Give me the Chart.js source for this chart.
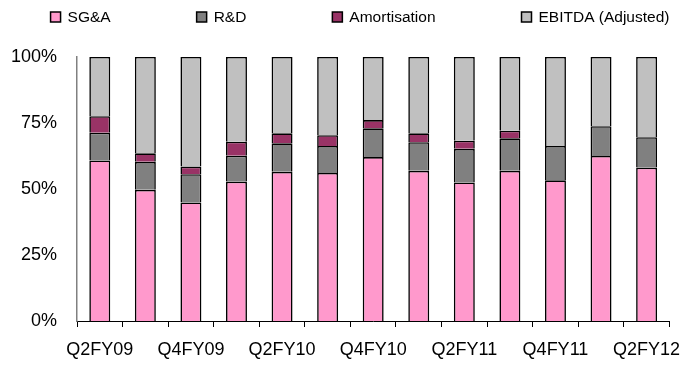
<!DOCTYPE html>
<html>
<head>
<meta charset="utf-8">
<script src="https://cdn.jsdelivr.net/npm/chart.js@4.4.1/dist/chart.umd.min.js"></script>
<style>
  html, body { margin: 0; padding: 0; background: #fff; }
  #caixa { width: 693px; height: 367px; }
</style>
</head>
<body>
<div id="caixa"><canvas id="grafico" width="693" height="367"></canvas></div>
<script>
// dados do gráfico (% da receita)
const trimestres = ["Q2FY09", "Q3FY09", "Q4FY09", "Q1FY10", "Q2FY10", "Q3FY10", "Q4FY10",
  "Q1FY11", "Q2FY11", "Q3FY11", "Q4FY11", "Q1FY12", "Q2FY12"];
const sga = [60.8, 49.7, 44.9, 52.8, 56.5, 56.1, 62.1, 56.9, 52.5, 56.9, 53.3, 62.5, 58.1];
const pd = [10.5, 10.6, 10.7, 9.8, 10.8, 10.2, 10.9, 10.8, 12.7, 12.3, 13.0, 11.3, 11.5];
const amortizacao = [6.3, 3.2, 2.9, 5.3, 3.8, 4.1, 3.1, 3.4, 3.1, 2.9, 0, 0, 0];
const ebitda = [22.4, 36.5, 41.5, 32.1, 28.9, 29.6, 23.9, 28.9, 31.7, 27.9, 33.7, 26.2, 30.4];
const ticksY = [0, 25, 50, 75, 100];

const fonte = "'Liberation Sans Narrow', 'Arial Narrow', 'Liberation Sans', Arial, sans-serif";

function serie(nome, valores, cor) {
  return {
    label: nome,
    data: valores,
    backgroundColor: cor,
    borderColor: "#000",
    borderWidth: 1.6,
    barPercentage: 0.46,
    categoryPercentage: 1,
  };
}

// legenda desenhada à mão no topo
const legendaTopo = {
  id: "legendaTopo",
  afterDraw(chart) {
    const ctx = chart.ctx;
    const itens = chart.data.datasets;
    const caixa = 10, espaco = 7, gap = 86, centro = 360, yMeio = 17;
    ctx.save();
    ctx.font = "15.5px " + fonte;
    const larguras = itens.map((d) => caixa + espaco + ctx.measureText(d.label).width);
    const total = larguras.reduce((a, b) => a + b, 0) + gap * (itens.length - 1);
    let x = centro - total / 2;
    itens.forEach((d, i) => {
      ctx.fillStyle = d.backgroundColor;
      ctx.fillRect(x, yMeio - caixa / 2, caixa, caixa);
      ctx.strokeStyle = "#000";
      ctx.lineWidth = 1.5;
      ctx.strokeRect(x, yMeio - caixa / 2, caixa, caixa);
      ctx.fillStyle = "#000";
      ctx.textBaseline = "middle";
      ctx.fillText(d.label, x + caixa + espaco, yMeio + 1);
      x += larguras[i] + gap;
    });
    ctx.restore();
  },
};

const ctxGrafico = document.getElementById("grafico").getContext("2d");
const grafico = new Chart(ctxGrafico, {
  type: "bar",
  data: {
    labels: trimestres,
    datasets: [
      serie("SG&A", sga, "#FF99CC"),
      serie("R&D", pd, "#808080"),
      serie("Amortisation", amortizacao, "#993366"),
      serie("EBITDA (Adjusted)", ebitda, "#C0C0C0"),
    ],
  },
  options: {
    responsive: false,
    animation: false,
    layout: { padding: { left: 0, right: 23, top: 57, bottom: 0 } },
    plugins: {
      legend: { display: false },
      tooltip: { enabled: false },
    },
    scales: {
      x: {
        stacked: true,
        grid: {
          display: true,
          drawOnChartArea: false,
          offset: true,
          tickLength: 6,
          color: "#000",
        },
        border: { color: "#000", width: 1 },
        ticks: {
          autoSkip: false,
          maxRotation: 0,
          padding: 12,
          color: "#000",
          font: { family: fonte, size: 18 },
          callback: (v, i) => (i % 2 === 0 ? trimestres[i] : ""),
        },
        afterFit: (escala) => { escala.height = 46; },
      },
      y: {
        stacked: true,
        min: 0,
        max: 100,
        afterBuildTicks: (escala) => { escala.ticks = ticksY.map((v) => ({ value: v })); },
        ticks: {
          padding: 20,
          color: "#000",
          font: { family: fonte, size: 18 },
          callback: (v) => v + "%",
        },
        grid: { display: false, drawTicks: false },
        border: { color: "#808080", width: 1.5 },
        afterFit: (escala) => { escala.width = 77; },
      },
    },
  },
  plugins: [legendaTopo],
});
</script>
</body>
</html>
